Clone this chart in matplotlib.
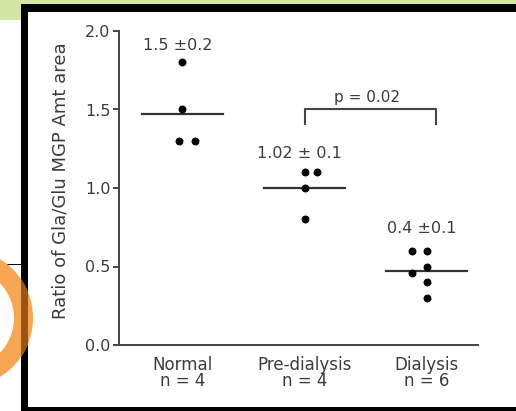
import matplotlib
matplotlib.use('Agg')
import matplotlib.pyplot as plt
from matplotlib.patches import Rectangle, Wedge, Polygon
from matplotlib.transforms import Affine2D
import numpy as np

# data
groups = ['Normal\nn = 4', 'Pre-dialysis\nn = 4', 'Dialysis\nn = 6']
normal = [1.8, 1.5, 1.3, 1.3]
predialysis = [1.1, 1.1, 1.0, 0.8]
dialysis = [0.6, 0.6, 0.5, 0.46, 0.4, 0.3]
means = [1.47, 1.0, 0.47]
stats_text = ['1.5 \u00b10.2', '1.02 \u00b1 0.1', '0.4 \u00b10.1']
stats_y = [1.91, 1.22, 0.745]
p_text = 'p = 0.02'
p_level = 1.5

# horizontal spread of overlapping dots (styling)
spread = [[0, 0, -0.03, 0.1], [0, 0.1, 0, 0], [-0.12, 0, 0, -0.12, 0, 0]]

W, H = 516, 411
fig = plt.figure(figsize=(W / 100, H / 100), dpi=100)
fig.patch.set_facecolor('white')


def px(x, y):
    # image pixel (y down) -> figure fraction
    return x / W, 1 - y / H


def box(x, y, w, h, color, z):
    fig.add_artist(Rectangle(px(x, y + h), w / W, h / H, transform=fig.transFigure,
                             facecolor=color, edgecolor='none', zorder=z))


green = '#d3e6a4'
box(0, 0, W, 4, green, 0)
box(0, 0, 21, 20, green, 0)
box(21, 4, 7, 404, 'black', 2)
box(21, 4, W - 21, 8, 'black', 2)
box(21, 407, W - 21, 4, 'black', 2)
box(0, 263.5, 21, 1.5, 'black', 2)

# orange ring (right half visible) and its darker part where it crosses the black bar
cx, cy, r_out, r_in = -36, 318, 69, 50
t = np.linspace(-np.pi / 2, np.pi / 2, 120)
ring = np.vstack([np.column_stack([cx + r_out * np.cos(t), cy + r_out * np.sin(t)]),
                  np.column_stack([cx + r_in * np.cos(t[::-1]), cy + r_in * np.sin(t[::-1])])])
fig.add_artist(Polygon([px(a, b) for a, b in ring], closed=True, transform=fig.transFigure,
                       facecolor='#f8a654', edgecolor='none', zorder=3))
xs = np.linspace(21, 28, 15)
half = np.sqrt(r_out ** 2 - (xs - cx) ** 2)
dark = np.vstack([np.column_stack([xs, cy - half]), np.column_stack([xs[::-1], cy + half[::-1]])])
fig.add_artist(Polygon([px(a, b) for a, b in dark], closed=True, transform=fig.transFigure,
                       facecolor='#9a5512', edgecolor='none', zorder=4))

ax = fig.add_axes([119 / W, 1 - 345 / H, 359 / W, 314 / H])
ax.set_xlim(-0.52, 2.42)
ax.set_ylim(0, 2.0)

txt = '#3c3c3c'
fs = 11.5
for i, vals in enumerate([normal, predialysis, dialysis]):
    x = np.full(len(vals), i, dtype=float) + np.array(spread[i])
    ax.scatter(x, vals, s=22, color='black', zorder=3, clip_on=False)
    ax.plot([i - 0.33, i + 0.33], [means[i], means[i]], color='#333333', lw=1.6, zorder=2)
    ax.text(i - 0.04, stats_y[i], stats_text[i], ha='center', va='center', fontsize=fs, color=txt)

# significance bracket
ax.plot([1.0, 1.0, 2.08, 2.08], [p_level - 0.09, p_level, p_level, p_level - 0.09],
        color='#444444', lw=1.5)
ax.text(1.51, p_level + 0.075, p_text, ha='center', va='center', fontsize=11, color=txt)

for side in ['top', 'right']:
    ax.spines[side].set_visible(False)
for side in ['left', 'bottom']:
    ax.spines[side].set_color('#444444')
    ax.spines[side].set_linewidth(1.4)

ax.set_yticks([0.0, 0.5, 1.0, 1.5, 2.0])
ax.set_yticklabels(['0.0', '0.5', '1.0', '1.5', '2.0'])
ax.tick_params(axis='y', direction='out', length=4, width=1.4, color='#444444',
               labelsize=fs, labelcolor=txt, pad=2)
ax.set_xticks([0, 1, 2])
ax.set_xticklabels(groups, linespacing=0.85)
ax.tick_params(axis='x', length=0, labelsize=12, labelcolor=txt, pad=8)

ax.set_ylabel('Ratio of Gla/Glu MGP Amt area', fontsize=13, color=txt)
ax.yaxis.set_label_coords(-0.139, 0.524)

fig.savefig('out.png', dpi=100)
